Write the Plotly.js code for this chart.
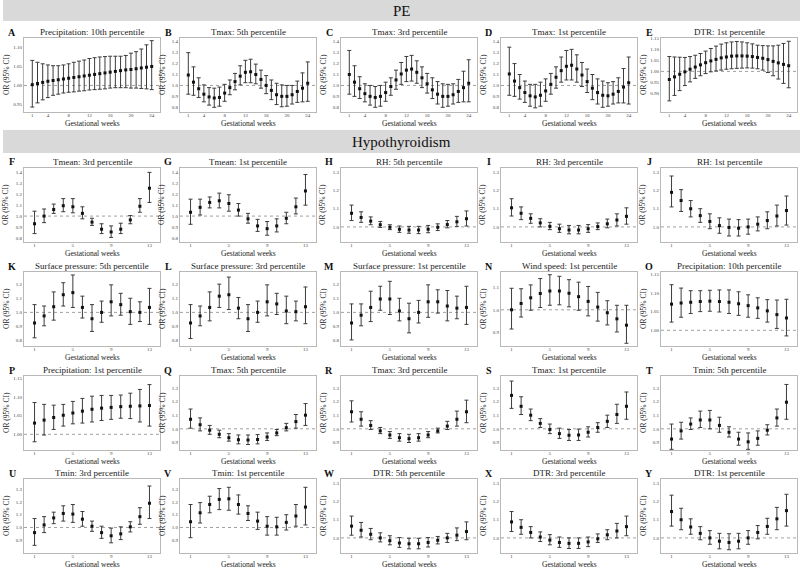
<!DOCTYPE html>
<html>
<head>
<meta charset="utf-8">
<script src="https://cdn.plot.ly/plotly-3.0.1.min.js"></script>
<style>
  html, body { margin: 0; padding: 0; background: #ffffff; }
  #chart { width: 800px; height: 569px; }
</style>
</head>
<body>
<div id="chart"></div>
<script>
// ---- Exposure windows (gestational weeks) ----
const weeksPE = [1,2,3,4,5,6,7,8,9,10,11,12,13,14,15,16,17,18,19,20,21,22,23,24];
const weeksHypo = [1,2,3,4,5,6,7,8,9,10,11,12,13];
const ticksPE = [1,4,8,12,16,20,24];
const ticksHypo = [1,5,9,13];

// ---- PE: odds ratios with 95% CI ----
const A_or = [1.002,1.005,1.008,1.011,1.013,1.015,1.017,1.019,1.021,1.023,1.025,1.027,1.029,1.031,1.033,1.035,1.037,1.039,1.041,1.042,1.044,1.046,1.048,1.050];
const A_lo = [0.943,0.954,0.962,0.968,0.974,0.977,0.980,0.982,0.983,0.985,0.986,0.988,0.989,0.990,0.991,0.993,0.994,0.994,0.994,0.993,0.993,0.992,0.991,0.989];
const A_hi = [1.066,1.061,1.057,1.054,1.052,1.052,1.054,1.057,1.061,1.064,1.067,1.071,1.073,1.075,1.076,1.077,1.077,1.077,1.079,1.085,1.089,1.096,1.107,1.118];

const B_or = [1.095,1.030,0.970,0.920,0.895,0.885,0.890,0.930,0.980,1.035,1.085,1.120,1.125,1.100,1.055,1.000,0.955,0.915,0.900,0.900,0.915,0.945,0.975,1.020];
const B_lo = [0.920,0.910,0.890,0.850,0.820,0.800,0.810,0.855,0.915,0.960,1.005,1.025,1.025,1.015,0.975,0.925,0.870,0.825,0.805,0.810,0.830,0.845,0.850,0.855];
const B_hi = [1.300,1.170,1.070,1.005,0.980,0.975,0.985,1.010,1.050,1.110,1.180,1.230,1.240,1.195,1.140,1.090,1.050,1.020,1.005,1.000,1.000,1.040,1.115,1.215];

const C_or = [1.100,1.030,0.970,0.925,0.900,0.890,0.900,0.935,0.990,1.050,1.105,1.140,1.150,1.120,1.070,1.015,0.960,0.920,0.900,0.900,0.915,0.945,0.980,1.020];
const C_lo = [0.920,0.900,0.880,0.850,0.820,0.800,0.810,0.855,0.910,0.965,1.010,1.035,1.040,1.020,0.980,0.930,0.880,0.830,0.800,0.810,0.830,0.845,0.850,0.850];
const C_hi = [1.320,1.180,1.080,1.015,1.000,0.990,1.000,1.030,1.070,1.140,1.210,1.265,1.275,1.225,1.170,1.110,1.070,1.035,1.015,1.010,1.015,1.055,1.130,1.235];

const D_or = [1.105,1.040,0.980,0.935,0.905,0.895,0.910,0.950,1.010,1.075,1.135,1.175,1.185,1.150,1.095,1.035,0.975,0.935,0.910,0.905,0.920,0.945,0.985,1.025];
const D_lo = [0.910,0.900,0.875,0.845,0.810,0.795,0.810,0.855,0.920,0.975,1.030,1.050,1.050,1.030,0.990,0.935,0.870,0.830,0.800,0.810,0.830,0.840,0.840,0.830];
const D_hi = [1.350,1.200,1.100,1.040,1.010,1.010,1.030,1.060,1.110,1.170,1.260,1.320,1.330,1.280,1.210,1.150,1.100,1.060,1.040,1.025,1.035,1.070,1.155,1.260];

const E_or = [0.963,0.975,0.987,0.998,1.010,1.020,1.030,1.040,1.048,1.055,1.062,1.066,1.070,1.071,1.071,1.070,1.068,1.064,1.060,1.054,1.046,1.039,1.032,1.026];
const E_lo = [0.865,0.890,0.912,0.935,0.952,0.968,0.980,0.990,0.998,1.002,1.006,1.010,1.012,1.014,1.015,1.016,1.015,1.012,1.006,0.995,0.980,0.965,0.945,0.925];
const E_hi = [1.068,1.066,1.065,1.064,1.068,1.074,1.082,1.093,1.105,1.116,1.125,1.131,1.135,1.137,1.135,1.131,1.126,1.120,1.118,1.117,1.117,1.120,1.128,1.138];

// ---- Hypothyroidism: odds ratios with 95% CI ----
const F_or = [0.930,1.000,1.060,1.095,1.085,1.025,0.945,0.880,0.855,0.880,0.965,1.090,1.255];
const F_lo = [0.840,0.940,1.025,1.040,1.030,0.975,0.915,0.840,0.805,0.840,0.930,1.035,1.125];
const F_hi = [1.045,1.065,1.110,1.160,1.160,1.085,0.980,0.930,0.910,0.935,1.005,1.160,1.400];

const G_or = [1.035,1.080,1.125,1.140,1.115,1.055,0.975,0.910,0.885,0.910,0.980,1.085,1.230];
const G_lo = [0.925,1.010,1.075,1.075,1.045,1.000,0.935,0.860,0.825,0.855,0.930,1.020,1.100];
const G_hi = [1.155,1.155,1.175,1.210,1.195,1.115,1.025,0.970,0.950,0.975,1.035,1.165,1.380];

const H_or = [1.075,1.052,1.032,1.012,0.998,0.987,0.983,0.983,0.987,0.998,1.013,1.028,1.045];
const H_lo = [1.035,1.025,1.012,0.997,0.985,0.970,0.965,0.963,0.968,0.980,0.995,1.003,1.005];
const H_hi = [1.120,1.083,1.055,1.030,1.012,1.005,1.003,1.003,1.008,1.017,1.035,1.058,1.088];

const I_or = [1.105,1.075,1.047,1.022,1.003,0.990,0.983,0.983,0.990,1.002,1.017,1.038,1.058];
const I_lo = [1.060,1.040,1.020,1.000,0.985,0.970,0.962,0.962,0.970,0.985,0.995,1.005,1.015];
const I_hi = [1.155,1.110,1.072,1.045,1.025,1.015,1.008,1.008,1.013,1.022,1.043,1.072,1.105];

const J_or = [1.190,1.145,1.100,1.062,1.030,1.007,0.997,0.993,1.000,1.015,1.035,1.060,1.090];
const J_lo = [1.110,1.085,1.055,1.025,0.990,0.965,0.950,0.950,0.960,0.978,0.990,1.005,1.010];
const J_hi = [1.280,1.205,1.145,1.100,1.072,1.050,1.043,1.040,1.043,1.055,1.083,1.120,1.170];

const K_or = [0.925,0.975,1.040,1.125,1.140,1.035,0.955,1.000,1.075,1.055,1.005,1.000,1.035];
const K_lo = [0.820,0.905,0.945,1.045,1.035,0.960,0.865,0.930,0.975,0.980,0.915,0.935,0.915];
const K_hi = [1.055,1.045,1.145,1.210,1.265,1.115,1.055,1.080,1.195,1.135,1.100,1.075,1.170];

const L_or = [0.925,0.975,1.035,1.115,1.125,1.030,0.955,1.000,1.075,1.060,1.010,1.005,1.040];
const L_lo = [0.815,0.905,0.940,1.035,1.020,0.955,0.865,0.930,0.975,0.985,0.920,0.940,0.920];
const L_hi = [1.055,1.045,1.145,1.200,1.250,1.105,1.055,1.080,1.195,1.135,1.115,1.080,1.180];

const M_or = [0.925,0.980,1.035,1.095,1.095,1.010,0.955,1.000,1.075,1.075,1.045,1.030,1.035];
const M_lo = [0.805,0.905,0.935,1.015,0.985,0.940,0.855,0.925,0.965,0.995,0.940,0.955,0.915];
const M_hi = [1.060,1.060,1.150,1.185,1.220,1.100,1.065,1.085,1.195,1.160,1.155,1.115,1.185];

const N_or = [1.000,1.028,1.053,1.072,1.083,1.083,1.073,1.058,1.037,1.012,0.987,0.960,0.932];
const N_lo = [0.915,0.968,0.998,1.010,1.020,1.022,1.013,0.998,0.973,0.950,0.933,0.902,0.852];
const N_hi = [1.095,1.093,1.110,1.138,1.155,1.148,1.133,1.122,1.103,1.077,1.040,1.020,1.020];

const O_or = [1.070,1.073,1.075,1.077,1.078,1.077,1.075,1.071,1.066,1.060,1.052,1.042,1.033];
const O_lo = [1.022,1.035,1.045,1.050,1.051,1.049,1.045,1.040,1.035,1.032,1.022,1.005,0.985];
const O_hi = [1.122,1.113,1.106,1.106,1.107,1.108,1.108,1.103,1.095,1.087,1.082,1.081,1.083];

const P_or = [1.030,1.038,1.045,1.051,1.057,1.062,1.067,1.070,1.072,1.074,1.075,1.076,1.077];
const P_lo = [0.980,0.998,1.013,1.022,1.028,1.030,1.033,1.037,1.040,1.043,1.042,1.033,1.022];
const P_hi = [1.085,1.080,1.078,1.080,1.088,1.096,1.102,1.104,1.104,1.105,1.110,1.120,1.133];

const Q_or = [1.070,1.030,0.990,0.960,0.935,0.920,0.918,0.922,0.940,0.970,1.008,1.053,1.100];
const Q_lo = [1.005,0.985,0.960,0.935,0.910,0.890,0.885,0.890,0.915,0.950,0.985,1.005,1.025];
const Q_hi = [1.145,1.080,1.025,0.990,0.965,0.955,0.955,0.958,0.970,0.995,1.040,1.105,1.185];

const R_or = [1.125,1.070,1.025,0.985,0.955,0.935,0.928,0.935,0.955,0.985,1.020,1.070,1.125];
const R_lo = [1.050,1.020,0.995,0.965,0.930,0.910,0.900,0.910,0.935,0.970,0.995,1.020,1.045];
const R_hi = [1.205,1.125,1.060,1.010,0.980,0.965,0.960,0.965,0.980,1.005,1.055,1.130,1.210];

const S_or = [1.245,1.165,1.100,1.040,0.995,0.965,0.953,0.955,0.975,1.010,1.055,1.105,1.165];
const S_lo = [1.150,1.105,1.060,1.010,0.965,0.930,0.915,0.915,0.940,0.975,1.010,1.040,1.070];
const S_hi = [1.350,1.235,1.145,1.075,1.035,1.005,0.995,0.998,1.015,1.045,1.100,1.180,1.270];

const T_or = [0.925,0.985,1.035,1.065,1.065,1.025,0.975,0.925,0.905,0.930,0.990,1.080,1.195];
const T_lo = [0.850,0.925,0.995,1.010,1.000,0.975,0.940,0.880,0.850,0.880,0.955,1.020,1.070];
const T_hi = [1.035,1.048,1.080,1.130,1.135,1.085,1.015,0.975,0.970,0.985,1.030,1.145,1.325];

const U_or = [0.960,1.020,1.075,1.110,1.105,1.065,1.010,0.960,0.935,0.950,1.005,1.085,1.190];
const U_lo = [0.860,0.960,1.030,1.050,1.040,1.010,0.970,0.915,0.880,0.905,0.965,1.025,1.070];
const U_hi = [1.070,1.085,1.120,1.170,1.180,1.125,1.050,1.010,0.995,1.005,1.045,1.155,1.325];

const V_or = [1.045,1.115,1.180,1.220,1.225,1.180,1.110,1.050,1.010,1.005,1.040,1.090,1.160];
const V_lo = [0.920,1.035,1.115,1.140,1.135,1.105,1.055,0.985,0.940,0.940,0.980,1.010,1.020];
const V_hi = [1.180,1.195,1.245,1.305,1.315,1.255,1.170,1.120,1.085,1.080,1.100,1.180,1.315];

const W_or = [1.065,1.042,1.020,1.000,0.985,0.972,0.968,0.968,0.975,0.987,1.000,1.015,1.035];
const W_lo = [1.015,1.005,0.990,0.978,0.962,0.948,0.940,0.940,0.950,0.967,0.975,0.985,0.990];
const W_hi = [1.120,1.085,1.052,1.028,1.012,1.002,0.998,0.998,1.002,1.008,1.025,1.055,1.088];

const X_or = [1.088,1.058,1.030,1.005,0.988,0.975,0.970,0.970,0.978,0.995,1.017,1.038,1.062];
const X_lo = [1.035,1.020,1.000,0.980,0.962,0.948,0.942,0.942,0.952,0.975,0.990,1.000,1.012];
const X_hi = [1.145,1.100,1.062,1.033,1.018,1.005,1.000,1.000,1.005,1.022,1.045,1.080,1.120];

const Y_or = [1.145,1.100,1.060,1.025,1.000,0.982,0.975,0.982,1.000,1.030,1.063,1.105,1.150];
const Y_lo = [1.065,1.045,1.020,0.990,0.965,0.940,0.935,0.940,0.965,0.995,1.020,1.045,1.065];
const Y_hi = [1.235,1.163,1.105,1.062,1.040,1.025,1.023,1.025,1.040,1.068,1.108,1.168,1.240];

// ---- Panel letters and titles ----
const panelLetters = ['A','B','C','D','E','F','G','H','I','J','K','L','M','N','O','P','Q','R','S','T','U','V','W','X','Y'];
const panelTitles = [
  'Precipitation: 10th percentile','Tmax: 5th percentile','Tmax: 3rd percentile','Tmax: 1st percentile','DTR: 1st percentile',
  'Tmean: 3rd percentile','Tmean: 1st percentile','RH: 5th percentile','RH: 3rd percentile','RH: 1st percentile',
  'Surface pressure: 5th percentile','Surface pressure: 3rd percentile','Surface pressure: 1st percentile','Wind speed: 1st percentile','Precipitation: 10th percentile',
  'Precipitation: 1st percentile','Tmax: 5th percentile','Tmax: 3rd percentile','Tmax: 1st percentile','Tmin: 5th percentile',
  'Tmin: 3rd percentile','Tmin: 1st percentile','DTR: 5th percentile','DTR: 3rd percentile','DTR: 1st percentile'
];
const sectionLabels = ['PE', 'Hypothyroidism'];
const xAxisLabel = 'Gestational weeks';
const yAxisLabel = 'OR (95% CI)';

// y-axis scale per panel: [min, max], tick values, decimals
const scPE2 = { range: [0.93, 1.125], ticks: [0.95, 1.00, 1.05, 1.10], dec: 2 };
const scTmaxPE = { range: [0.757, 1.434], ticks: [0.8, 0.9, 1.0, 1.1, 1.2, 1.3, 1.4], dec: 1 };
const scDtrPE = { range: [0.814, 1.153], ticks: [0.90, 0.95, 1.00, 1.05, 1.10, 1.15], dec: 2 };
const scTmean = { range: [0.763, 1.44], ticks: [0.8, 0.9, 1.0, 1.1, 1.2, 1.3, 1.4], dec: 1 };
const scSmall = { range: [0.917, 1.324], ticks: [1.0, 1.1, 1.2, 1.3], dec: 1 };
const scPress = { range: [0.762, 1.286], ticks: [0.8, 0.9, 1.0, 1.1, 1.2], dec: 1 };
const scWind = { range: [0.84, 1.167], ticks: [0.9, 1.0, 1.1], dec: 1 };
const scPrec = { range: [0.958, 1.156], ticks: [1.00, 1.05, 1.10, 1.15], dec: 2 };
const scTmax = { range: [0.845, 1.387], ticks: [0.9, 1.0, 1.1, 1.2, 1.3], dec: 1 };
const scTmin = { range: [0.80, 1.38], ticks: [0.9, 1.0, 1.1, 1.2, 1.3], dec: 1 };

const panels = [
  [A_or, A_lo, A_hi, scPE2], [B_or, B_lo, B_hi, scTmaxPE], [C_or, C_lo, C_hi, scTmaxPE], [D_or, D_lo, D_hi, scTmaxPE], [E_or, E_lo, E_hi, scDtrPE],
  [F_or, F_lo, F_hi, scTmean], [G_or, G_lo, G_hi, scTmean], [H_or, H_lo, H_hi, scSmall], [I_or, I_lo, I_hi, scSmall], [J_or, J_lo, J_hi, scSmall],
  [K_or, K_lo, K_hi, scPress], [L_or, L_lo, L_hi, scPress], [M_or, M_lo, M_hi, scPress], [N_or, N_lo, N_hi, scWind], [O_or, O_lo, O_hi, scPrec],
  [P_or, P_lo, P_hi, scPrec], [Q_or, Q_lo, Q_hi, scTmax], [R_or, R_lo, R_hi, scTmax], [S_or, S_lo, S_hi, scTmax], [T_or, T_lo, T_hi, scTmax],
  [U_or, U_lo, U_hi, scTmin], [V_or, V_lo, V_hi, scTmin], [W_or, W_lo, W_hi, scSmall], [X_or, X_lo, X_hi, scSmall], [Y_or, Y_lo, Y_hi, scSmall]
];

// ---- Grid geometry (pixels) ----
const FIG_W = 800, FIG_H = 569;
const colLeft = [24, 180, 341, 501, 661];
const boxW = 136;
const rowTop = [38, 168, 272, 376, 479];
const boxH = 74;
const px = v => v / FIG_W;
const py = v => 1 - v / FIG_H;

const SERIF = 'Liberation Serif, Times New Roman, serif';
const traces = [];
const shapes = [];
const annotations = [];
const layout = {
  width: FIG_W, height: FIG_H,
  margin: { l: 0, r: 0, t: 0, b: 0 },
  paper_bgcolor: '#ffffff', plot_bgcolor: '#ffffff',
  showlegend: false,
  font: { family: SERIF, color: '#222' }
};

// section header bands
const bands = [[0, 21], [130, 153]];
bands.forEach((b, i) => {
  shapes.push({ type: 'rect', xref: 'paper', yref: 'paper', x0: px(3), x1: 1, y0: py(b[1]), y1: py(b[0]),
    fillcolor: '#d9d9d9', line: { width: 0 }, layer: 'below' });
  annotations.push({ xref: 'paper', yref: 'paper', x: px(402), y: py((b[0] + b[1]) / 2 + 0.5),
    text: sectionLabels[i], showarrow: false, xanchor: 'center', yanchor: 'middle',
    font: { family: SERIF, size: 15, color: '#111' } });
});

panels.forEach((p, i) => {
  const [or, lo, hi, sc] = p;
  const row = Math.floor(i / 5), col = i % 5;
  const n = i + 1;
  const suf = n === 1 ? '' : String(n);
  const xr = 'x' + suf, yr = 'y' + suf;
  const left = colLeft[col], top = rowTop[row];
  const isPE = row === 0;
  const weeks = isPE ? weeksPE : weeksHypo;

  layout['xaxis' + suf] = {
    domain: [px(left), px(left + boxW)], anchor: yr,
    range: isPE ? [-0.6, 25.6] : [-0.1, 14.1],
    tickvals: isPE ? ticksPE : ticksHypo,
    showline: true, mirror: true, linecolor: '#b8b8b8', linewidth: 1,
    showgrid: false, zeroline: false, ticks: '', ticklabelstandoff: -2,
    tickfont: { family: SERIF, size: 5, color: '#444' }, fixedrange: true
  };
  layout['yaxis' + suf] = {
    domain: [py(top + boxH), py(top)], anchor: xr,
    range: sc.range, tickvals: sc.ticks, ticktext: sc.ticks.map(v => v.toFixed(sc.dec)),
    showline: true, mirror: true, linecolor: '#b8b8b8', linewidth: 1,
    showgrid: false, zeroline: false, ticks: '',
    tickfont: { family: SERIF, size: 5, color: '#444' }, fixedrange: true
  };

  traces.push({
    type: 'scatter', mode: 'markers', x: weeks, y: or, xaxis: xr, yaxis: yr,
    marker: { symbol: 'square', size: 3, color: '#111' },
    error_y: {
      type: 'data', symmetric: false,
      array: hi.map((h, k) => h - or[k]),
      arrayminus: or.map((v, k) => v - lo[k]),
      color: '#3c3c3c', thickness: 1, width: 2
    },
    hoverinfo: 'skip'
  });

  // reference line at OR = 1
  shapes.push({ type: 'line', xref: xr + ' domain', yref: yr, x0: 0, x1: 1, y0: 1, y1: 1,
    line: { color: '#a0a0a0', width: 1, dash: 'dot' }, layer: 'below' });

  annotations.push({ xref: 'paper', yref: 'paper', x: px(left - 12), y: py(top - 6),
    text: panelLetters[i], showarrow: false, xanchor: 'center', yanchor: 'middle',
    font: { family: SERIF, size: 10, color: '#111', weight: 'bold' } });
  annotations.push({ xref: 'paper', yref: 'paper', x: px(left + boxW / 2), y: py(top - 6),
    text: panelTitles[i], showarrow: false, xanchor: 'center', yanchor: 'middle',
    font: { family: SERIF, size: 9, color: '#222' } });
  annotations.push({ xref: 'paper', yref: 'paper', x: px(left + boxW / 2), y: py(top + boxH + 11),
    text: xAxisLabel, showarrow: false, xanchor: 'center', yanchor: 'middle',
    font: { family: SERIF, size: 7.5, color: '#222' } });
  annotations.push({ xref: 'paper', yref: 'paper', x: px(left - 18), y: py(top + boxH / 2),
    text: yAxisLabel, showarrow: false, xanchor: 'center', yanchor: 'middle', textangle: -90,
    font: { family: SERIF, size: 7.5, color: '#222' } });
});

layout.shapes = shapes;
layout.annotations = annotations;

Plotly.newPlot('chart', traces, layout, { staticPlot: true, displayModeBar: false });
</script>
</body>
</html>
